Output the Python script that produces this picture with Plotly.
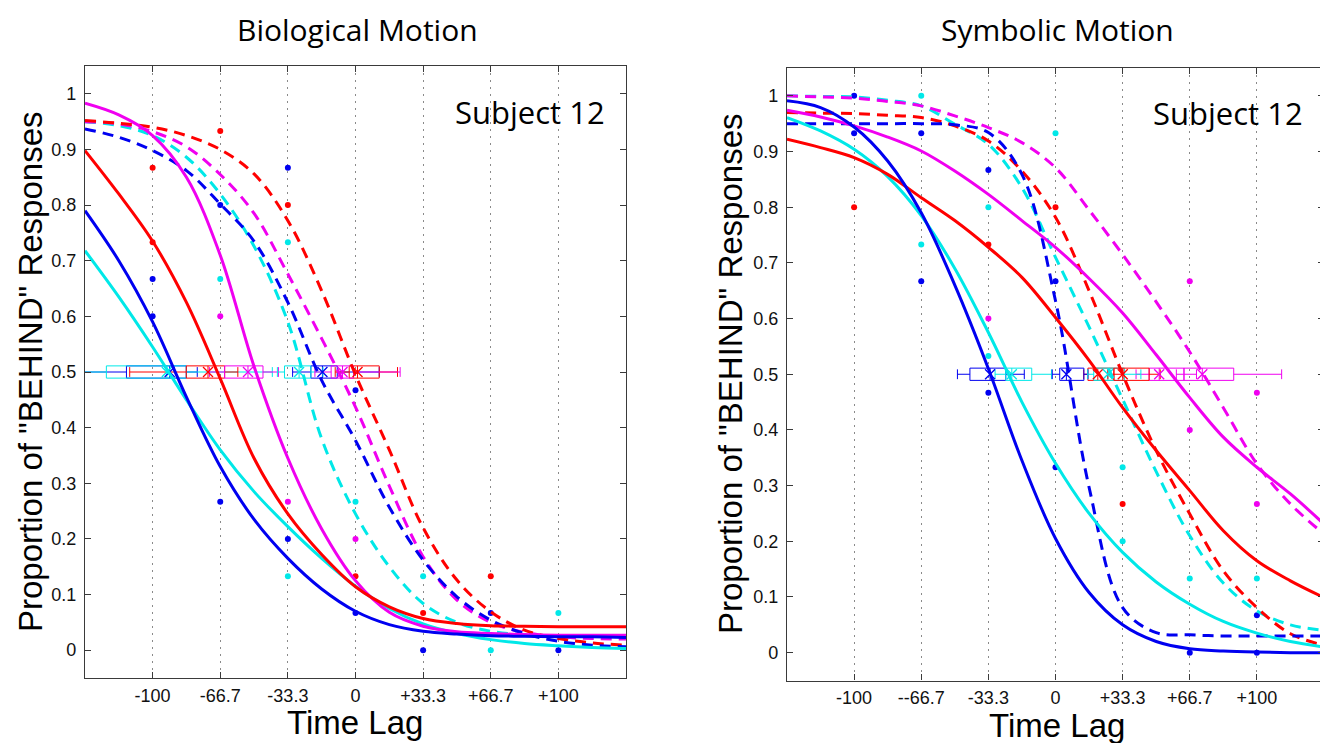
import plotly.graph_objects as go

# ---------------- data ----------------
lags = [-133.33, -116.67, -100.0, -83.33, -66.67, -50.0, -33.33, -16.67, 0.0,
        16.67, 33.33, 50.0, 66.67, 83.33, 100.0, 116.67, 133.33]

x_tick_vals = [-100, -66.67, -33.33, 0, 33.33, 66.67, 100]
bio_tick_text = ['-100', '-66.7', '-33.3', '0', '+33.3', '+66.7', '+100']
sym_tick_text = ['-100', '--66.7', '-33.3', '0', '+33.3', '+66.7', '+100']
y_tick_vals = [0, 0.1, 0.2, 0.3, 0.4, 0.5, 0.6, 0.7, 0.8, 0.9, 1.0]
y_tick_text = ['0', '0.1', '0.2', '0.3', '0.4', '0.5', '0.6', '0.7', '0.8', '0.9', '1']

# Biological Motion - fitted curves
bio_blue_solid = [0.79, 0.70, 0.59, 0.455, 0.33, 0.235, 0.165, 0.11, 0.07, 0.046, 0.034, 0.029, 0.026, 0.025, 0.024, 0.024, 0.023]
bio_cyan_solid = [0.718, 0.635, 0.545, 0.45, 0.36, 0.285, 0.222, 0.165, 0.115, 0.075, 0.047, 0.03, 0.019, 0.012, 0.008, 0.005, 0.003]
bio_red_solid = [0.898, 0.82, 0.735, 0.625, 0.488, 0.345, 0.245, 0.172, 0.114, 0.078, 0.057, 0.048, 0.044, 0.043, 0.042, 0.042, 0.042]
bio_magenta_solid = [0.983, 0.962, 0.925, 0.85, 0.71, 0.51, 0.345, 0.218, 0.125, 0.068, 0.043, 0.033, 0.030, 0.028, 0.027, 0.027, 0.027]
bio_blue_dashed = [0.937, 0.922, 0.898, 0.862, 0.802, 0.735, 0.625, 0.485, 0.377, 0.257, 0.162, 0.096, 0.054, 0.03, 0.016, 0.009, 0.006]
bio_cyan_dashed = [0.95, 0.943, 0.925, 0.886, 0.82, 0.726, 0.59, 0.38, 0.245, 0.15, 0.084, 0.05, 0.034, 0.028, 0.026, 0.025, 0.025]
bio_red_dashed = [0.952, 0.947, 0.94, 0.925, 0.90, 0.856, 0.772, 0.646, 0.495, 0.36, 0.22, 0.126, 0.069, 0.036, 0.021, 0.013, 0.009]
bio_magenta_dashed = [0.95, 0.946, 0.932, 0.905, 0.855, 0.785, 0.676, 0.56, 0.437, 0.295, 0.168, 0.09, 0.05, 0.032, 0.024, 0.021, 0.02]

# Symbolic Motion - fitted curves
sym_blue_solid = [0.991, 0.979, 0.944, 0.883, 0.79, 0.66, 0.51, 0.345, 0.205, 0.108, 0.05, 0.02, 0.007, 0.003, 0.001, 0.0, 0.0]
sym_cyan_solid = [0.961, 0.937, 0.904, 0.855, 0.785, 0.69, 0.575, 0.45, 0.34, 0.25, 0.18, 0.127, 0.087, 0.056, 0.035, 0.02, 0.01]
sym_red_solid = [0.922, 0.907, 0.889, 0.859, 0.817, 0.776, 0.728, 0.674, 0.602, 0.525, 0.44, 0.363, 0.291, 0.219, 0.165, 0.129, 0.099]
sym_magenta_solid = [0.974, 0.962, 0.946, 0.926, 0.901, 0.865, 0.823, 0.776, 0.728, 0.672, 0.61, 0.535, 0.458, 0.387, 0.333, 0.285, 0.231]
sym_blue_dashed = [0.95, 0.95, 0.95, 0.95, 0.95, 0.948, 0.934, 0.859, 0.632, 0.297, 0.081, 0.036, 0.032, 0.03, 0.03, 0.03, 0.03]
sym_cyan_dashed = [1.0, 0.999, 0.998, 0.992, 0.982, 0.949, 0.913, 0.835, 0.71, 0.585, 0.455, 0.325, 0.21, 0.125, 0.075, 0.05, 0.04]
sym_red_dashed = [0.97, 0.969, 0.968, 0.965, 0.961, 0.946, 0.919, 0.865, 0.782, 0.65, 0.5, 0.363, 0.249, 0.147, 0.081, 0.034, 0.013]
sym_magenta_dashed = [1.0, 0.998, 0.996, 0.99, 0.982, 0.964, 0.943, 0.916, 0.871, 0.795, 0.715, 0.63, 0.54, 0.44, 0.339, 0.267, 0.213]

# Observed proportions (dots)
bio_dots_blue_x = [-100, -100, -66.67, -66.67, -33.33, -33.33, 0, 0, 33.33, 66.67, 100]
bio_dots_blue_y = [0.667, 0.6, 0.8, 0.267, 0.867, 0.2, 0.467, 0.067, 0.0, 0.067, 0.0]
bio_dots_cyan_x = [-66.67, -33.33, -33.33, 0, 33.33, 66.67, 100]
bio_dots_cyan_y = [0.667, 0.733, 0.133, 0.267, 0.133, 0.0, 0.067]
bio_dots_red_x = [-100, -100, -66.67, -33.33, 0, 33.33, 66.67]
bio_dots_red_y = [0.867, 0.733, 0.933, 0.8, 0.133, 0.067, 0.133]
bio_dots_magenta_x = [-66.67, -33.33, 0]
bio_dots_magenta_y = [0.6, 0.267, 0.2]

sym_dots_blue_x = [-100, -100, -66.67, -66.67, -33.33, -33.33, 0, 0, 66.67, 100, 100]
sym_dots_blue_y = [1.0, 0.933, 0.933, 0.667, 0.867, 0.467, 0.667, 0.333, 0.0, 0.067, 0.0]
sym_dots_cyan_x = [-66.67, -66.67, -33.33, -33.33, 0, 33.33, 33.33, 66.67, 100]
sym_dots_cyan_y = [1.0, 0.733, 0.8, 0.533, 0.933, 0.333, 0.2, 0.133, 0.133]
sym_dots_red_x = [-100, -33.33, 0, 33.33]
sym_dots_red_y = [0.8, 0.733, 0.8, 0.267]
sym_dots_magenta_x = [-33.33, 66.67, 66.67, 100, 100]
sym_dots_magenta_y = [0.6, 0.667, 0.4, 0.467, 0.267]

# Threshold box plots (order: blue, cyan, red, magenta solid; blue, cyan, red, magenta dashed)
box_colors_key = ['blue', 'cyan', 'red', 'magenta', 'blue', 'cyan', 'red', 'magenta']
bio_box_lo = [-134, -134, -111.3, -72, -31, -38.5, -10, -20]
bio_box_q1 = [-112.9, -122.8, -83.4, -64.5, -22, -35, -3.1, -12]
bio_box_med = [-91.6, -93, -72.7, -53, -16.3, -27.8, 1, -6.4]
bio_box_q3 = [-83.4, -83.4, -64.5, -45.6, -9, -22, 11.7, -1]
bio_box_hi = [-78, -41, -58, -38, 11.7, -16, 20.7, 22]

sym_box_lo = [-48.7, -30, 14, 40, -1.6, 16, 26, 60]
sym_box_q1 = [-42.5, -24.7, 16.1, 46.5, 2.1, 19, 29, 63.8]
sym_box_med = [-32.5, -21.7, 21, 51.5, 5.4, 26, 33.4, 72.9]
sym_box_q3 = [-24.7, -11.8, 29, 63.8, 14.1, 34.2, 46.5, 88.5]
sym_box_hi = [-15.5, -2, 34, 70, 16.1, 42.4, 52, 112.3]

# ---------------- styling ----------------
COL = {'blue': '#0000F0', 'cyan': '#00E8E8', 'red': '#FF0000', 'magenta': '#F000F0'}
DASH = '11px,7px'
TICKFONT = dict(family='Liberation Sans, Arial, sans-serif', size=18, color='#111111')
AXFONT = dict(family='Liberation Sans, Arial, sans-serif', size=33, color='#000000')
TITLEFONT = dict(family='Open Sans, sans-serif', size=30, color='#000000')
SUBFONT = dict(family='Open Sans, sans-serif', size=31, color='#000000')

fig = go.Figure()

panels = [
    dict(xa='x', ya='y',
         solid={'blue': bio_blue_solid, 'cyan': bio_cyan_solid, 'red': bio_red_solid, 'magenta': bio_magenta_solid},
         dashed={'blue': bio_blue_dashed, 'cyan': bio_cyan_dashed, 'red': bio_red_dashed, 'magenta': bio_magenta_dashed},
         dots={'blue': (bio_dots_blue_x, bio_dots_blue_y), 'cyan': (bio_dots_cyan_x, bio_dots_cyan_y),
               'red': (bio_dots_red_x, bio_dots_red_y), 'magenta': (bio_dots_magenta_x, bio_dots_magenta_y)},
         box=(bio_box_lo, bio_box_q1, bio_box_med, bio_box_q3, bio_box_hi)),
    dict(xa='x2', ya='y2',
         solid={'blue': sym_blue_solid, 'cyan': sym_cyan_solid, 'red': sym_red_solid, 'magenta': sym_magenta_solid},
         dashed={'blue': sym_blue_dashed, 'cyan': sym_cyan_dashed, 'red': sym_red_dashed, 'magenta': sym_magenta_dashed},
         dots={'blue': (sym_dots_blue_x, sym_dots_blue_y), 'cyan': (sym_dots_cyan_x, sym_dots_cyan_y),
               'red': (sym_dots_red_x, sym_dots_red_y), 'magenta': (sym_dots_magenta_x, sym_dots_magenta_y)},
         box=(sym_box_lo, sym_box_q1, sym_box_med, sym_box_q3, sym_box_hi)),
]

for p in panels:
    # dots
    for key in ['blue', 'cyan', 'red', 'magenta']:
        dx, dy = p['dots'][key]
        fig.add_trace(go.Scatter(x=dx, y=dy, mode='markers', xaxis=p['xa'], yaxis=p['ya'],
                                 marker=dict(size=6, color=COL[key]), showlegend=False, hoverinfo='skip'))
    # boxes
    lo, q1, med, q3, hi = p['box']
    for i, key in enumerate(box_colors_key):
        fig.add_trace(go.Box(y=[0.5], q1=[q1[i]], median=[med[i]], q3=[q3[i]],
                             lowerfence=[lo[i]], upperfence=[hi[i]], orientation='h',
                             xaxis=p['xa'], yaxis=p['ya'], width=0.022, whiskerwidth=0.8,
                             line=dict(color=COL[key], width=1), fillcolor='rgba(0,0,0,0)',
                             boxpoints=False, showlegend=False, hoverinfo='skip'))
        fig.add_trace(go.Scatter(x=[med[i]], y=[0.5], mode='markers', xaxis=p['xa'], yaxis=p['ya'],
                                 marker=dict(symbol='x-thin-open', size=10, color=COL[key],
                                             line=dict(color=COL[key], width=1.3)),
                                 showlegend=False, hoverinfo='skip'))
    # curves
    for key in ['cyan', 'magenta', 'red', 'blue']:
        fig.add_trace(go.Scatter(x=lags, y=p['dashed'][key], mode='lines', xaxis=p['xa'], yaxis=p['ya'],
                                 line=dict(color=COL[key], width=3, dash=DASH, shape='spline', smoothing=1.0),
                                 showlegend=False, hoverinfo='skip'))
    for key in ['cyan', 'magenta', 'red', 'blue']:
        fig.add_trace(go.Scatter(x=lags, y=p['solid'][key], mode='lines', xaxis=p['xa'], yaxis=p['ya'],
                                 line=dict(color=COL[key], width=3, shape='spline', smoothing=1.0),
                                 showlegend=False, hoverinfo='skip'))

# The page body has an 8px margin: the figure is drawn 8px smaller and every
# placement below is given in window pixels minus that offset.
OFF = 8
W, H = 1328 - OFF, 743 - OFF


def px(xp):
    return (xp - OFF) / W


def py(yp):
    return 1 - (yp - OFF) / H


def xaxis_cfg(domain, ticktext, anchor):
    return dict(domain=domain, range=[-133.33, 133.33], tickmode='array', tickvals=x_tick_vals,
                ticktext=ticktext, showgrid=True, griddash='2px,5px', gridcolor='#8a8a8a', gridwidth=1,
                zeroline=False, showline=True, mirror='ticks', linecolor='#3a3a3a', linewidth=1.3,
                ticks='inside', ticklen=6, tickwidth=1, tickcolor='#3a3a3a', tickfont=TICKFONT,
                ticklabelstandoff=1, anchor=anchor, fixedrange=True)


def yaxis_cfg(domain, anchor):
    return dict(domain=domain, range=[-0.05, 1.05], tickmode='array', tickvals=y_tick_vals,
                ticktext=y_tick_text, showgrid=False, zeroline=False, showline=True, mirror='ticks',
                linecolor='#3a3a3a', linewidth=1.3, ticks='inside', ticklen=6, tickwidth=1,
                tickcolor='#3a3a3a', tickfont=TICKFONT, ticklabelstandoff=4, anchor=anchor,
                fixedrange=True)


annotations = [
    dict(text='Biological Motion', x=px(357), y=py(29), font=TITLEFONT),
    dict(text='Symbolic Motion', x=px(1057), y=py(30), font=TITLEFONT),
    dict(text='Subject 12', x=px(530), y=py(112), font=SUBFONT),
    dict(text='Subject 12', x=px(1228), y=py(113), font=SUBFONT),
    dict(text='Time Lag', x=px(355), y=py(722), font=AXFONT),
    dict(text='Time Lag', x=px(1057), y=py(725), font=AXFONT),
    dict(text='Proportion of "BEHIND" Responses', x=px(30), y=py(372), font=AXFONT, textangle=-90),
    dict(text='Proportion of "BEHIND" Responses', x=px(730), y=py(374), font=AXFONT, textangle=-90),
]
for a in annotations:
    a.update(xref='paper', yref='paper', showarrow=False, xanchor='center', yanchor='middle')

fig.update_layout(
    width=W, height=H, autosize=False,
    margin=dict(l=0, r=0, t=0, b=0),
    paper_bgcolor='white', plot_bgcolor='white',
    boxmode='overlay', showlegend=False,
    xaxis=xaxis_cfg([px(85), px(626)], bio_tick_text, 'y'),
    yaxis=yaxis_cfg([py(678), py(66)], 'x'),
    xaxis2=xaxis_cfg([px(787), px(1324)], sym_tick_text, 'y2'),
    yaxis2=yaxis_cfg([py(680.5), py(68)], 'x2'),
    annotations=annotations,
)

fig.write_html('out.html', include_plotlyjs=True, config={'displayModeBar': False})
